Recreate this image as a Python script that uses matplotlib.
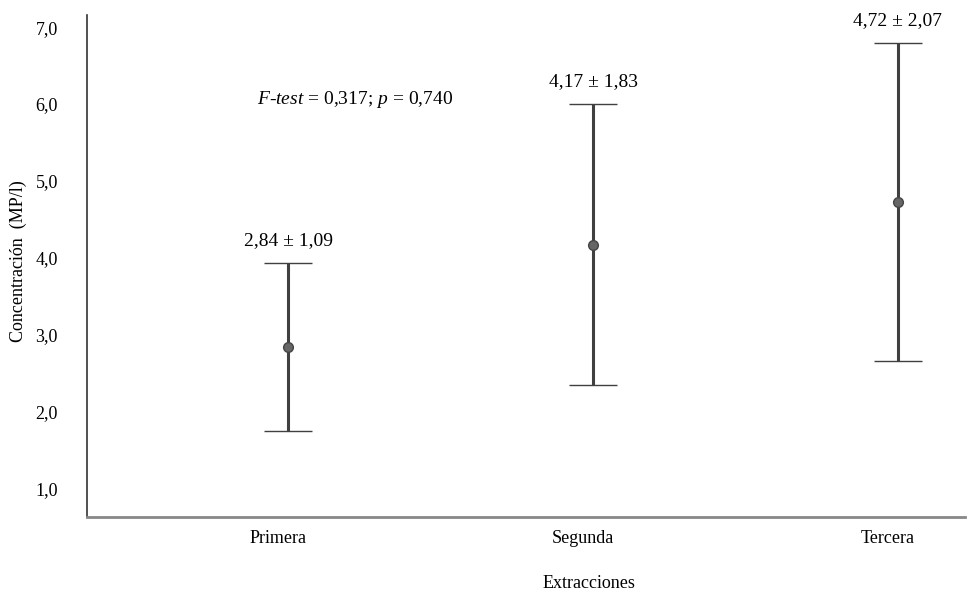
import matplotlib
matplotlib.use("Agg")
import matplotlib.pyplot as plt
from matplotlib.transforms import ScaledTranslation

categories = ["Primera", "Segunda", "Tercera"]
means = [2.84, 4.17, 4.72]
sds = [1.09, 1.83, 2.07]
labels = ["2,84 ± 1,09", "4,17 ± 1,83", "4,72 ± 2,07"]
yticks = [1.0, 2.0, 3.0, 4.0, 5.0, 6.0, 7.0]
ytick_labels = ["1,0", "2,0", "3,0", "4,0", "5,0", "6,0", "7,0"]

plt.rcParams['font.family'] = ['Liberation Serif', 'DejaVu Serif']
plt.rcParams['mathtext.fontset'] = 'custom'
plt.rcParams['mathtext.rm'] = 'Liberation Serif'
plt.rcParams['mathtext.it'] = 'Liberation Serif:italic'

fig = plt.figure(figsize=(9.68, 5.93), dpi=100)
ax = fig.add_axes([0.0899, 0.128, 0.907, 0.847])

x = list(range(len(categories)))
ax.errorbar(x, means, yerr=sds, fmt='o', color='#404040', ecolor='#404040',
            elinewidth=2.2, capsize=17.5, capthick=2.4, markersize=7,
            markerfacecolor='#666666', markeredgecolor='#444444', markeredgewidth=1)

for xi, m, s, lab in zip(x, means, sds, labels):
    ax.text(xi, m + s + 0.29, lab, ha='center', va='center', fontsize=14)

ax.text(0.22, 6.06, r"$F$-$test$ = 0,317; $p$ = 0,740", ha='center', va='center', fontsize=14)

ax.set_xlim(-0.66, 2.22)
ax.set_ylim(0.623, 7.16)
ax.set_xticks(x)
ax.set_xticklabels(categories, fontsize=13)
ax.set_yticks(yticks)
ax.set_yticklabels(ytick_labels, fontsize=13)
ax.tick_params(axis='x', length=0, pad=9)
ax.tick_params(axis='y', length=0, pad=21)
shift = ScaledTranslation(-10 / 100, 0, fig.dpi_scale_trans)
for lbl in ax.get_xticklabels():
    lbl.set_transform(lbl.get_transform() + shift)

for sp in ['top', 'right']:
    ax.spines[sp].set_visible(False)
ax.spines['left'].set_color('#333333')
ax.spines['left'].set_linewidth(1.2)
ax.spines['bottom'].set_color('#888888')
ax.spines['bottom'].set_linewidth(2)

fig.text(18 / 968, 1 - 261 / 593, "Concentración  (MP/l)", rotation=90,
         ha='center', va='center', fontsize=13)
fig.text(589 / 968, 1 - 583 / 593, "Extracciones", ha='center', va='center', fontsize=13)

fig.savefig("out.png", dpi=100)
